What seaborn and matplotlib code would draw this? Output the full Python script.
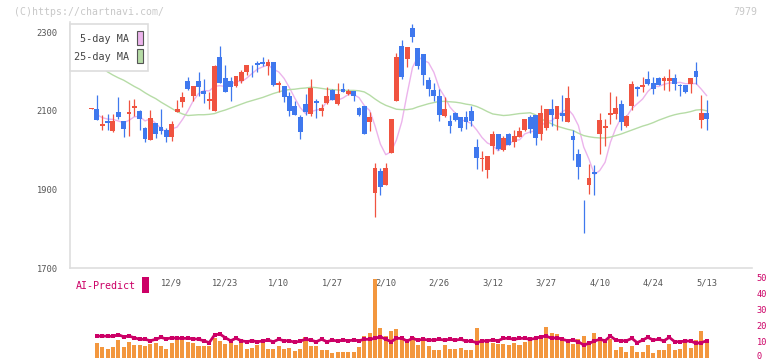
import matplotlib
matplotlib.use("Agg")
import matplotlib.pyplot as plt
import matplotlib.transforms as mtransforms
from matplotlib.patches import Rectangle
import seaborn as sns
import numpy as np
import pandas as pd

# daily candles (index 0 .. 115)
opens = [2105, 2105, 2062, 2073, 2048, 2098, 2073, 2091, 2108, 2100,
         2055, 2025, 2069, 2060, 2050, 2033, 2098, 2123, 2177, 2137,
         2177, 2151, 2125, 2099, 2238, 2183, 2177, 2164, 2177, 2198,
         2210, 2221, 2223, 2213, 2223, 2166, 2164, 2138, 2113, 2084,
         2118, 2093, 2126, 2099, 2120, 2152, 2118, 2155, 2143, 2151,
         2107, 2111, 2071, 1890, 1947, 1910, 1993, 2124, 2265, 2231,
         2310, 2259, 2245, 2179, 2152, 2138, 2088, 2075, 2095, 2084,
         2084, 2100, 2008, 1978, 1949, 2010, 2040, 2000, 2042, 2020,
         2034, 2051, 2084, 2090, 2042, 2057, 2105, 2080, 2095, 2072,
         2035, 1991, 1840, 1911, 1945, 2040, 2057, 2089, 2093, 2118,
         2061, 2111, 2160, 2160, 2181, 2172, 2183, 2175, 2175, 2183,
         2166, 2166, 2169, 2202, 2076, 2095]
highs = [2106, 2141, 2090, 2092, 2092, 2135, 2075, 2128, 2130, 2101,
         2059, 2103, 2069, 2105, 2057, 2073, 2127, 2149, 2185, 2162,
         2198, 2182, 2147, 2217, 2264, 2217, 2187, 2189, 2204, 2217,
         2217, 2226, 2237, 2231, 2223, 2177, 2164, 2147, 2124, 2090,
         2144, 2182, 2130, 2118, 2160, 2156, 2172, 2172, 2156, 2151,
         2110, 2113, 2097, 1966, 1955, 1966, 2078, 2247, 2279, 2262,
         2321, 2259, 2245, 2186, 2171, 2156, 2135, 2090, 2097, 2084,
         2099, 2111, 2027, 1999, 1986, 2048, 2040, 2035, 2044, 2052,
         2059, 2080, 2090, 2090, 2116, 2105, 2131, 2113, 2141, 2164,
         2050, 2003, 1872, 1964, 1962, 2095, 2078, 2147, 2138, 2128,
         2090, 2175, 2162, 2185, 2202, 2186, 2186, 2188, 2206, 2194,
         2169, 2166, 2183, 2223, 2141, 2128]
lows = [2104, 2076, 2052, 2050, 2045, 2079, 2033, 2035, 2086, 2051,
        2020, 2025, 2031, 2040, 2020, 2022, 2098, 2110, 2152, 2126,
        2137, 2120, 2105, 2099, 2170, 2149, 2126, 2160, 2171, 2192,
        2187, 2198, 2213, 2190, 2164, 2147, 2122, 2086, 2090, 2027,
        2090, 2086, 2081, 2086, 2118, 2127, 2116, 2147, 2141, 2124,
        2088, 2040, 2048, 1830, 1886, 1910, 1993, 2124, 2181, 2211,
        2276, 2206, 2165, 2137, 2124, 2073, 2084, 2044, 2074, 2048,
        2054, 2062, 1951, 1947, 1928, 1991, 2000, 1997, 2012, 2008,
        2034, 2048, 2044, 2014, 2025, 2052, 2061, 2052, 2073, 2072,
        1975, 1927, 1790, 1889, 1886, 1989, 2010, 2066, 2078, 2051,
        2059, 2103, 2138, 2148, 2165, 2144, 2165, 2154, 2151, 2152,
        2138, 2145, 2145, 2169, 2055, 2052]
closes = [2105, 2076, 2067, 2068, 2075, 2085, 2053, 2098, 2113, 2080,
          2027, 2081, 2040, 2048, 2033, 2067, 2105, 2136, 2156, 2162,
          2160, 2144, 2131, 2215, 2170, 2149, 2160, 2189, 2200, 2217,
          2208, 2216, 2218, 2223, 2165, 2172, 2135, 2099, 2090, 2046,
          2096, 2158, 2119, 2106, 2138, 2128, 2144, 2147, 2151, 2137,
          2089, 2042, 2084, 1955, 1906, 1955, 2078, 2236, 2186, 2262,
          2289, 2215, 2192, 2155, 2138, 2089, 2105, 2061, 2076, 2055,
          2071, 2075, 1979, 1980, 1985, 2042, 2004, 2030, 2014, 2035,
          2048, 2080, 2054, 2030, 2095, 2105, 2090, 2113, 2086, 2133,
          2025, 1957, 1839, 1928, 1940, 2076, 2062, 2095, 2106, 2071,
          2088, 2169, 2155, 2166, 2168, 2155, 2165, 2183, 2183, 2169,
          2162, 2148, 2183, 2186, 2095, 2080]
ma25 = [2224, 2217, 2209, 2199, 2191, 2184, 2178, 2170, 2162, 2155,
        2146, 2138, 2131, 2122, 2114, 2106, 2098, 2092, 2088, 2089,
        2090, 2090, 2091, 2093, 2098, 2102, 2107, 2112, 2117, 2122,
        2126, 2130, 2134, 2139, 2144, 2148, 2152, 2154, 2155, 2157,
        2158, 2160, 2159, 2157, 2155, 2154, 2153, 2152, 2152, 2152,
        2151, 2148, 2140, 2130, 2121, 2114, 2109, 2104, 2103, 2103,
        2105, 2110, 2114, 2118, 2121, 2124, 2124, 2123, 2122, 2120,
        2117, 2115, 2111, 2105, 2098, 2092, 2090, 2088, 2089, 2091,
        2093, 2094, 2095, 2090, 2080, 2073, 2067, 2061, 2057, 2053,
        2050, 2043, 2037, 2034, 2032, 2031, 2031, 2033, 2037, 2041,
        2046, 2051, 2056, 2061, 2065, 2070, 2076, 2081, 2086, 2090,
        2093, 2095, 2098, 2102, 2103, 2100]

# volume and AI-Predict start at candle 1
volume = [9.4, 6.7, 5.4, 6.5, 11.2, 6.9, 9.8, 7.9, 7.9, 7.3,
          8.5, 9.2, 7.1, 5.6, 9.0, 11.3, 11.3, 10.0, 9.4, 7.3,
          7.3, 7.3, 12.1, 10.6, 8.5, 10.4, 7.7, 9.6, 5.6, 6.2,
          8.1, 9.4, 5.6, 5.6, 7.3, 5.6, 6.2, 4.4, 5.6, 12.7,
          7.3, 7.3, 4.8, 4.8, 3.1, 3.5, 3.5, 3.5, 3.5, 6.9,
          13.5, 15.2, 49.0, 18.3, 13.5, 16.7, 18.1, 12.5, 11.0, 13.1,
          7.9, 10.4, 7.3, 4.8, 4.8, 7.9, 5.2, 5.2, 5.8, 4.8,
          4.8, 18.3, 10.6, 10.6, 9.4, 8.5, 8.5, 7.9, 9.0, 7.9,
          10.0, 11.5, 12.1, 12.1, 19.4, 15.6, 14.8, 11.0, 10.0, 8.5,
          11.5, 13.7, 8.3, 15.6, 10.6, 10.0, 11.7, 4.8, 6.5, 3.7,
          7.3, 3.5, 3.5, 7.9, 3.1, 4.8, 4.8, 8.5, 4.8, 5.6,
          9.4, 5.8, 11.0, 16.7, 11.5]
ai_predict = [13.5, 13.5, 13.5, 13.3, 14.4, 13.1, 13.5, 12.5, 11.5, 11.5,
              10.6, 11.5, 12.7, 11.7, 12.5, 12.1, 12.1, 12.1, 11.9, 11.5,
              10.6, 9.4, 14.2, 14.8, 12.5, 10.6, 12.1, 10.6, 10.0, 10.6,
              10.0, 10.4, 11.0, 10.0, 11.5, 10.6, 10.6, 9.6, 10.4, 11.5,
              11.0, 10.0, 11.5, 10.0, 11.0, 10.4, 11.0, 10.6, 11.0, 10.6,
              11.5, 11.5, 12.1, 13.1, 11.5, 10.0, 12.1, 12.1, 10.4, 12.1,
              11.0, 11.5, 11.0, 11.0, 11.5, 11.0, 11.5, 11.0, 11.5, 10.4,
              10.4, 9.4, 10.4, 10.6, 11.0, 10.6, 12.1, 12.1, 11.5, 12.1,
              12.1, 11.5, 12.1, 13.1, 13.5, 12.1, 12.5, 11.5, 10.6, 11.0,
              10.0, 7.9, 9.0, 10.4, 11.5, 10.6, 13.5, 11.0, 10.6, 10.6,
              12.1, 9.4, 11.0, 12.7, 11.0, 11.5, 10.6, 12.7, 10.0, 10.0,
              10.4, 10.4, 9.0, 9.4, 10.6]

date_labels = ['12/9', '12/23', '1/10', '1/27', '2/10', '2/26',
               '3/12', '3/27', '4/10', '4/24', '5/13']
date_positions = [15, 25, 35, 45, 55, 65, 75, 85, 95, 105, 115]
price_ticks = [1700, 1900, 2100, 2300]
volume_ticks = [0, 10, 20, 30, 40, 50]

RED = '#f05340'
BLUE = '#3f78ee'
ORANGE = '#f3973e'
MAGENTA = '#cc0066'
PINK = '#ecb4ec'
GREEN = '#b6dca6'
AXIS = '#dedede'
TEXT = '#555555'

sns.set_style("white")
plt.rcParams['font.family'] = ['DejaVu Sans Mono']

W, H = 772, 361
fig = plt.figure(figsize=(W / 100, H / 100), dpi=100)


def box(x0, y0, x1, y1):
    return [x0 / W, 1 - y1 / H, (x1 - x0) / W, (y1 - y0) / H]


ax = fig.add_axes(box(70, 22, 752, 268))
axv = fig.add_axes(box(70, 277.7, 752, 357.7))

df = pd.DataFrame({'open': opens, 'high': highs, 'low': lows, 'close': closes, 'ma25': ma25})
df['idx'] = np.arange(len(df))
df['ma5'] = df['close'].rolling(5, min_periods=1).mean()
up = df['close'] >= df['open']
colors = np.where(up, RED, BLUE)

# wicks and bodies
ax.vlines(df['idx'], df['low'], df['high'], colors=colors, linewidth=0.9, zorder=3)
body_low = np.minimum(df['open'], df['close'])
body_h = np.maximum(np.abs(df['close'] - df['open']), 2.2)
ax.bar(df['idx'], body_h, bottom=body_low, width=0.9, color=colors, linewidth=0, zorder=4)

ma5 = df.iloc[1:]
sns.lineplot(x=ma5['idx'], y=ma5['ma5'], ax=ax, color=PINK, linewidth=1.0, zorder=2)
sns.lineplot(x=df['idx'], y=df['ma25'], ax=ax, color=GREEN, linewidth=1.0, zorder=2)

xmin, xmax = -4.02, 123.46
ax.set_xlim(xmin, xmax)
ax.set_ylim(1700, 2326)
ax.set_xlabel('')
ax.set_ylabel('')
for s in ['top', 'right']:
    ax.spines[s].set_visible(False)
for s in ['left', 'bottom']:
    ax.spines[s].set_color(AXIS)
    ax.spines[s].set_linewidth(1.2)
ax.set_yticks(price_ticks)
ax.set_yticklabels([str(p) for p in price_ticks])
ax.tick_params(axis='y', length=4, width=1.2, color=AXIS, pad=5,
               labelsize=6.3, labelcolor=TEXT)
ax.set_xticks(np.linspace(xmin, xmax, 12))
ax.set_xticklabels([])
ax.tick_params(axis='x', direction='inout', length=6.5, width=1.2, color=AXIS)

# date labels below the price axis
trans = mtransforms.blended_transform_factory(ax.transData, fig.transFigure)
for pos, lab in zip(date_positions, date_labels):
    ax.text(pos, 1 - 283 / H, lab, transform=trans, ha='center', va='center',
            fontsize=6.3, color=TEXT, clip_on=False)

# volume + AI-Predict
vol_idx = np.arange(1, len(df))
sns.barplot(x=vol_idx, y=volume, ax=axv, native_scale=True, color=ORANGE,
            saturation=1, width=0.75, linewidth=0, zorder=2)
sns.lineplot(x=vol_idx, y=ai_predict, ax=axv, color=MAGENTA, linewidth=2.0,
             marker='s', markersize=2.2, markeredgewidth=0, zorder=3)
axv.set_xlim(xmin, xmax)
axv.set_ylim(0, 50)
axv.set_xlabel('')
axv.set_ylabel('')
for s in axv.spines.values():
    s.set_visible(False)
axv.set_xticks([])
axv.yaxis.tick_right()
axv.set_yticks(volume_ticks)
axv.set_yticklabels([str(v) for v in volume_ticks])
axv.tick_params(axis='y', length=0, pad=3.5, labelsize=6.2, labelcolor=MAGENTA)
axv.patch.set_alpha(0)
# keep the bottom "0" label inside the picture
zero_label = axv.get_yticklabels()[0]
zero_label.set_transform(zero_label.get_transform() +
                         mtransforms.ScaledTranslation(0, 2.5 / 100, fig.dpi_scale_trans))

# legend box
ax.add_patch(Rectangle((70 / W, 1 - 71 / H), 78 / W, 47 / H, transform=fig.transFigure,
                       facecolor='white', edgecolor='#dddddd', linewidth=1.2,
                       clip_on=False, zorder=10))
ax.text(129.5 / W, 1 - 39.5 / H, '5-day MA', transform=fig.transFigure, ha='right',
        va='center', fontsize=7.3, color='#444444', zorder=11)
ax.text(129.5 / W, 1 - 57 / H, '25-day MA', transform=fig.transFigure, ha='right',
        va='center', fontsize=7.3, color='#444444', zorder=11)
ax.add_patch(Rectangle((137 / W, 1 - 45.3 / H), 5.7 / W, 14 / H, transform=fig.transFigure,
                       facecolor=PINK, edgecolor='#555555', linewidth=0.8,
                       clip_on=False, zorder=11))
ax.add_patch(Rectangle((137 / W, 1 - 63 / H), 5.7 / W, 14 / H, transform=fig.transFigure,
                       facecolor=GREEN, edgecolor='#555555', linewidth=0.8,
                       clip_on=False, zorder=11))

# AI-Predict label
fig.text(76 / W, 1 - 286 / H, 'AI-Predict', ha='left', va='center', fontsize=7.2, color=MAGENTA)
fig.patches.append(Rectangle((142.3 / W, 1 - 292.7 / H), 6.7 / W, 16 / H,
                             transform=fig.transFigure, facecolor=MAGENTA, edgecolor='none'))

fig.text(14 / W, 1 - 12 / H, '(C)https://chartnavi.com/', ha='left', va='center',
         fontsize=7.1, color='#c8c8c8')
fig.text(757 / W, 1 - 12 / H, '7979', ha='right', va='center', fontsize=7.1, color='#c8c8c8')

fig.savefig('out.png', dpi=100)
